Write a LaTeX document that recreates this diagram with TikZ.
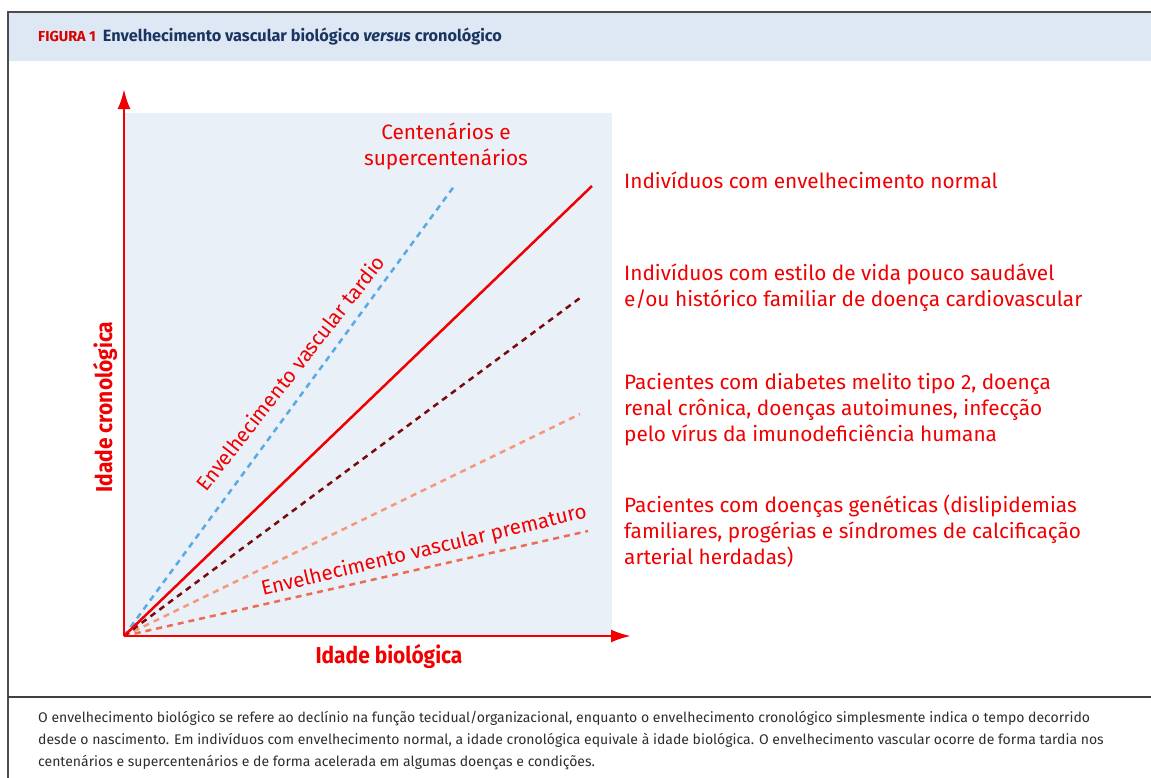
\documentclass[tikz,border=0pt]{standalone}
\usepackage{fontspec}
\setmainfont{Fira Sans}
\newfontfamily\condfont[FakeStretch=0.91]{Fira Sans}
\usepackage{tikz}
\usetikzlibrary{
  positioning,
  arrows.meta,
}
\definecolor{axisred}{RGB}{240,0,0}
\definecolor{panelblue}{RGB}{233,240,248}
\definecolor{headblue}{RGB}{221,232,244}
\definecolor{titlenavy}{RGB}{27,53,96}
\definecolor{lateblue}{RGB}{90,170,224}
\definecolor{darkred}{RGB}{122,10,10}
\definecolor{lightsalmon}{RGB}{244,151,122}
\definecolor{salmon}{RGB}{238,106,80}
\definecolor{captiongray}{RGB}{45,45,45}
\tikzset{
  axis/.style = {
    -{Latex[length=20pt, width=13pt]},
    line width = 2.6pt,
    color = axisred
  },
  curve/.style = {
    line width = 2.5pt,
    color = #1
  },
  dashcurve/.style = {
    curve = #1,
    dash pattern = on 6pt off 5pt
  },
  group/.style = {
    anchor = west,
    align = left,
    inner sep = 0pt,
    text = axisred,
    font = \fontsize{20.8}{26}\selectfont
  },
  slanted/.style = {
    inner sep = 0pt,
    text = axisred,
    rotate = #1,
    font = \fontsize{20.5}{24}\selectfont
  },
  axislabel/.style = {
    inner sep = 0pt,
    text = axisred,
    font = \condfont\bfseries\fontsize{23}{26}\selectfont
  },
}

\begin{document}
\begin{tikzpicture}[x=1pt, y=-1pt]
  \useasboundingbox (0,0) rectangle (1151,777);
  % frame and header band
  \fill[headblue] (8,12) rectangle (1160,61);
  \draw[line width=1.6pt, black!70] (8,800) -- (8,12) -- (1160,12);
  \draw[line width=1.3pt, black!75] (8,697) -- (1160,697);
  \node[anchor=west, inner sep=0pt, font=\bfseries] (title) at (38,37)
    {\textcolor{red!85!black}{\fontsize{14.5}{16}\selectfont FIGURA 1}\hspace{7pt}%
     \textcolor{titlenavy}{\fontsize{16.3}{18}\selectfont Envelhecimento vascular biológico \textit{versus} cronológico}};
  % plot
  \fill[panelblue] (124,113) rectangle (612,636);
  \coordinate (O) at (124,636);
  \coordinate (ytip) at (124,89);
  \coordinate (xtip) at (631,636);
  \coordinate (late) at (455,185);
  \coordinate (normal) at (592,186);
  \coordinate (risk) at (580,298);
  \coordinate (disease) at (580,414);
  \coordinate (genetic) at (588,531);
  \draw[dashcurve=salmon] (O) -- (genetic);
  \draw[dashcurve=lightsalmon] (O) -- (disease);
  \draw[dashcurve=darkred] (O) -- (risk);
  \draw[dashcurve=lateblue] (O) -- (late);
  \draw[curve=axisred] (O) -- (normal);
  \draw[axis] (O) -- (ytip);
  \draw[axis] (O) -- (xtip);
  \node[axislabel, rotate=90] (ylab) at (105,407) {Idade cronológica};
  \node[axislabel] (xlab) at (389,656) {Idade biológica};
  \node[slanted=52] (tardio) at (290,373) {Envelhecimento vascular tardio};
  \node[slanted=13.6] (prematuro) at (424,551) {Envelhecimento vascular prematuro};
  \node[group, anchor=center, align=center] (cent) at (446,146) {Centenários e\\supercentenários};
  \node[group] (gnormal) at (624,180) {Indivíduos com envelhecimento normal};
  \node[group] (grisk) at (624,288) {Indivíduos com estilo de vida pouco saudável\\e/ou histórico familiar de doença cardiovascular};
  \node[group] (gdisease) at (624,410) {Pacientes com diabetes melito tipo 2, doença\\renal crônica, doenças autoimunes, infecção\\pelo vírus da imunodeficiência humana};
  \node[group] (ggenetic) at (624,531) {Pacientes com doenças genéticas (dislipidemias\\familiares, progérias e síndromes de calcificação\\arterial herdadas)};
  % caption
  \node[anchor=north west, inner sep=0pt, align=left, text=captiongray,
    font=\fontsize{14}{22}\selectfont] (caption) at (38,711)
    {O envelhecimento biológico se refere ao declínio na função tecidual/organizacional, enquanto o envelhecimento cronológico simplesmente indica o tempo decorrido\\
     desde o nascimento. Em indivíduos com envelhecimento normal, a idade cronológica equivale à idade biológica. O envelhecimento vascular ocorre de forma tardia nos\\
     centenários e supercentenários e de forma acelerada em algumas doenças e condições.};
\end{tikzpicture}
\end{document}
